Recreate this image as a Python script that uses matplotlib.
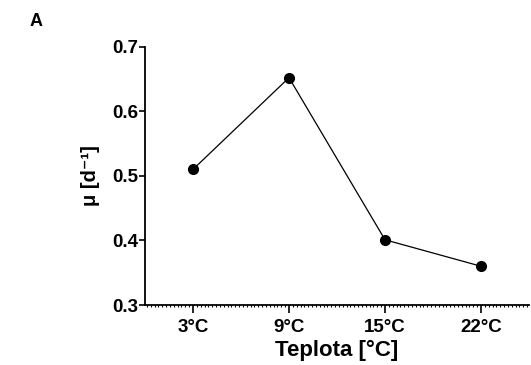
import matplotlib
matplotlib.use('Agg')
import matplotlib.pyplot as plt
from matplotlib.ticker import MultipleLocator

# data
temps = ['3°C', '9°C', '15°C', '22°C']
mu = [0.51, 0.652, 0.401, 0.360]
y_ticks = [0.3, 0.4, 0.5, 0.6, 0.7]

plt.rcParams['font.family'] = ['Liberation Sans', 'DejaVu Sans']
plt.rcParams['font.weight'] = 'bold'

fig = plt.figure(figsize=(5.31, 3.65), dpi=100)
ax = fig.add_axes([145 / 531, 1 - 305 / 365, 384 / 531, (305 - 46.7) / 365])

x = list(range(len(temps)))
ax.plot(x, mu, color='black', lw=0.9, marker='o', ms=7,
        mfc='black', mec='black', clip_on=False, zorder=3)

ax.set_xlim(-0.5, 3.5)
ax.set_ylim(0.3, 0.7)
ax.set_xticks(x)
ax.set_xticklabels(temps)
ax.set_yticks(y_ticks)
ax.set_yticklabels([f'{v:.1f}' for v in y_ticks])

# dense little ticks under the x axis, like the original export
ax.xaxis.set_minor_locator(MultipleLocator(0.04))
ax.tick_params(axis='x', which='minor', length=1.5, width=0.8, color='black')

for s in ['top', 'right']:
    ax.spines[s].set_visible(False)
ax.spines['left'].set_linewidth(1.3)
ax.spines['bottom'].set_linewidth(1.3)

ax.tick_params(axis='y', which='major', length=4, width=1.2, labelsize=13.5, pad=1)
ax.tick_params(axis='x', which='major', length=6, width=1.2, labelsize=13.5, pad=4)

ax.set_xlabel('Teplota [°C]', fontsize=16, fontweight='bold', labelpad=3)
ax.set_ylabel('μ [d⁻¹]', fontsize=14.5, fontweight='bold', labelpad=9)

fig.text(30 / 531, 1 - 26 / 365, 'A', fontsize=13, fontweight='bold')

fig.savefig('out.png', dpi=100, facecolor='white')
